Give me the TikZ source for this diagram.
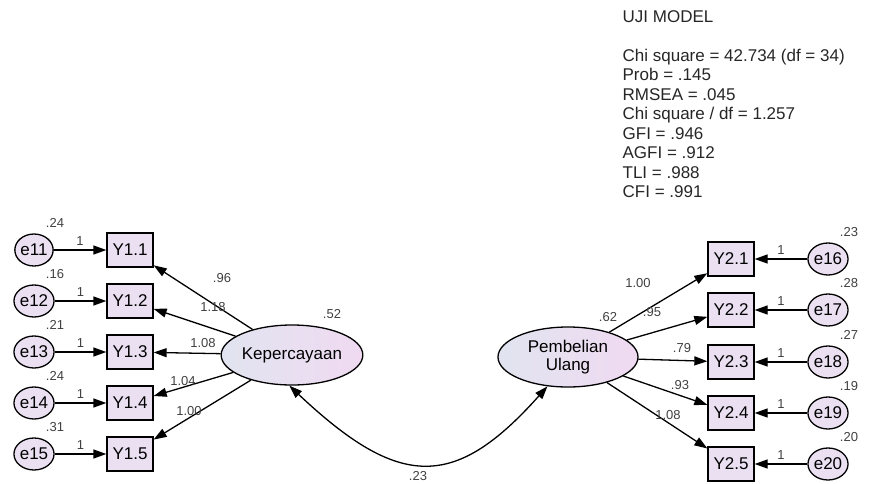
\documentclass[tikz,border=0pt]{standalone}
\usepackage{fontspec}
\setmainfont{Liberation Sans}
\usetikzlibrary{arrows.meta,shapes.geometric}
\definecolor{lav}{RGB}{234,224,242}
\definecolor{lavL}{RGB}{225,228,240}
\definecolor{lavR}{RGB}{240,218,241}
\begin{document}
\begin{tikzpicture}[x=1pt,y=-1pt,line width=1.3pt,
  >={Triangle[length=13pt,width=9pt]},
  big/.style={font=\fontsize{17}{18}\selectfont},
  obs/.style={draw,fill=lav,minimum width=46pt,minimum height=34pt,inner sep=0pt,big},
  err/.style={ellipse,draw,fill=lav,minimum width=38pt,minimum height=32pt,inner sep=0pt,big},
  lat/.style={ellipse,draw,left color=lavL,right color=lavR,minimum height=60pt,inner sep=0pt,align=center,big},
  num/.style={font=\fontsize{13}{15}\selectfont,inner sep=0pt,text=black!75},
  stat/.style={anchor=base west,inner sep=0pt,font=\fontsize{17}{19}\selectfont,text=black!85}]
\useasboundingbox (0,0) rectangle (871,483);

% latent variables
\node[lat,minimum width=135pt] (K) at (292,355) {Kepercayaan};
\node[lat,minimum width=140pt] (P) at (568,357) {Pembelian\\Ulang};

% left indicators
\foreach \i/\y/\v in {1/250/.24,2/301/.16,3/352/.21,4/403/.24,5/454/.31}{
  \node[obs] (Y1\i) at (130,\y) {Y1.\i};
  \node[err] (e1\i) at (34,\y) {e1\i};
  \node[num] (v1\i) at (55,\y-27) {\v};
  \draw[->] (e1\i) -- node[num,above=4pt] (o1\i) {1} (Y1\i);
  \draw[->] (K) -- (Y1\i);
}
% right indicators
\foreach \i/\y/\e/\v in {1/259/16/.23,2/310/17/.28,3/362/18/.27,4/413/19/.19,5/464/20/.20}{
  \node[obs] (Y2\i) at (731,\y) {Y2.\i};
  \node[err] (e\e) at (828,\y) {e\e};
  \node[num] (v\e) at (849,\y-27) {\v};
  \draw[->] (e\e) -- node[num,above=4pt] (o\e) {1} (Y2\i);
  \draw[->] (P) -- (Y2\i);
}

% loadings
\node[num] (l11) at (222,278) {.96};
\node[num] (l12) at (213,307) {1.18};
\node[num] (l13) at (203,343) {1.08};
\node[num] (l14) at (183,381) {1.04};
\node[num] (l15) at (189,411) {1.00};
\node[num] (l21) at (638,283) {1.00};
\node[num] (l22) at (652,312) {.95};
\node[num] (l23) at (682,348) {.79};
\node[num] (l24) at (680,385) {.93};
\node[num] (l25) at (668,415) {1.08};
\node[num] (vK) at (332,314) {.52};
\node[num] (vP) at (608,317) {.62};

% covariance
\draw[<->] (K.265) .. controls (400,490) and (455,490) .. (P.235);
\node[num] (cv) at (418,476) {.23};

% fit statistics
\node[stat] (s0) at (622,22) {UJI MODEL};
\node[stat] (s1) at (622,61) {Chi square = 42.734 (df = 34)};
\node[stat] (s2) at (622,80.5) {Prob = .145};
\node[stat] (s3) at (622,100) {RMSEA = .045};
\node[stat] (s4) at (622,119.5) {Chi square / df = 1.257};
\node[stat] (s5) at (622,139) {GFI = .946};
\node[stat] (s6) at (622,158.5) {AGFI = .912};
\node[stat] (s7) at (622,178) {TLI = .988};
\node[stat] (s8) at (622,197.5) {CFI = .991};
\end{tikzpicture}
\end{document}
